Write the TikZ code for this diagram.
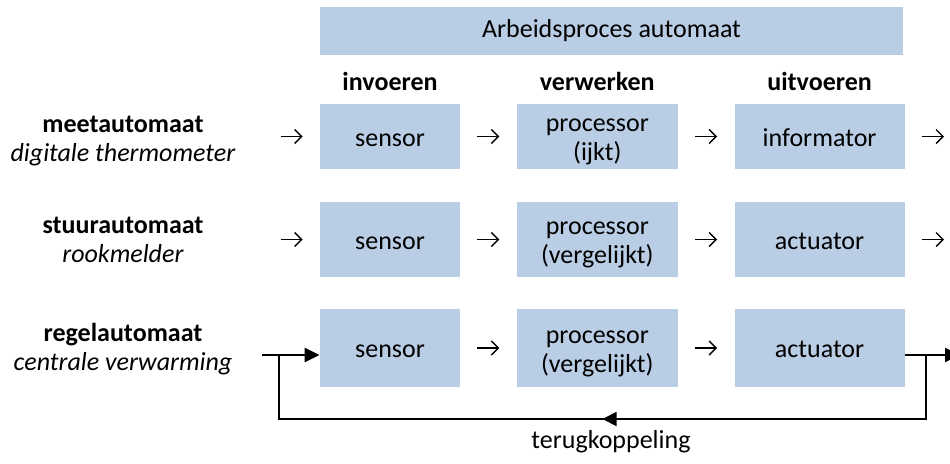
\documentclass[tikz,border=0pt]{standalone}
\usepackage{fontspec}
\setmainfont{Carlito}
\usepackage{xcolor}
\usetikzlibrary{positioning,arrows.meta,decorations.markings}
\definecolor{boxfill}{HTML}{B9CDE5}
\newcommand\txtsize{\fontsize{13}{14.5}\selectfont}
\newcommand\topstrut{\rule{0pt}{13pt}}
\newcommand\botstrut{\rule[-3.5pt]{0pt}{0pt}}
\tikzset{
  box/.style={fill=boxfill, align=center, inner xsep=2pt, inner ysep=0pt},
  sens/.style={box, minimum width=70pt},
  cpu/.style={box, minimum width=80.5pt},
  outp/.style={box, minimum width=85pt},
  head/.style={font=\txtsize\bfseries, anchor=base},
  kind/.style={align=center},
  tick/.style={-{Straight Barb[length=3.5pt,width=7pt]}, line width=0.7pt,
               shorten <=8.5pt, shorten >=8.5pt},
  io/.style={-{Triangle[length=7.5pt,width=7pt]}, line width=1.15pt},
  fb/.style={line width=0.9pt, postaction=decorate,
             decoration={markings, mark=at position 0.5 with {\arrow{Triangle[length=7pt,width=7pt]}}}},
}
\begin{document}
\begin{tikzpicture}[x=0.5pt,y=-0.5pt,node distance=28pt,font=\txtsize]
  \clip (0,0) rectangle (950,463);
  \node[box,minimum width=291.5pt,minimum height=24pt] (proc) at (611.5,31) {Arbeidsproces automaat};
  % meetautomaat
  \node[sens,minimum height=32.5pt] (s1) at (390,136.5) {\topstrut sensor\botstrut};
  \node[cpu,minimum height=32.5pt,right=of s1] (p1) {\topstrut processor\\(ijkt)\botstrut};
  \node[outp,minimum height=32.5pt,right=of p1] (a1) {\topstrut informator\botstrut};
  % stuurautomaat
  \node[sens,minimum height=37.5pt] (s2) at (390,239.5) {\topstrut sensor\botstrut};
  \node[cpu,minimum height=37.5pt,right=of s2] (p2) {\topstrut processor\\(vergelijkt)\botstrut};
  \node[outp,minimum height=37.5pt,right=of p2] (a2) {\topstrut actuator\botstrut};
  % regelautomaat
  \node[sens,minimum height=39pt] (s3) at (390,348) {\topstrut sensor\botstrut};
  \node[cpu,minimum height=39pt,right=of s3] (p3) {\topstrut processor\\(vergelijkt)\botstrut};
  \node[outp,minimum height=39pt,right=of p3] (a3) {\topstrut actuator\botstrut};
  \node[head] (hin) at (s1 |- 0,90) {invoeren};
  \node[head] (hver) at (p1 |- 0,90) {verwerken};
  \node[head] (huit) at (a1 |- 0,90) {uitvoeren};
  \node[kind] (k1) at (123,141) {\textbf{meetautomaat}\\\textit{digitale thermometer}};
  \node[kind] (k2) at (123,239.5) {\textbf{stuurautomaat}\\\textit{rookmelder}};
  \node[kind] (k3) at (123,349) {\textbf{regelautomaat}\\\textit{centrale verwarming}};
  \foreach \r in {1,2}{
    \draw[tick]([xshift=-28pt]s\r.west)--(s\r.west);
    \draw[tick](a\r.east)--([xshift=28pt]a\r.east);
  }
  \foreach \r in {1,2,3}{
    \draw[tick](s\r)--(p\r);\draw[tick](p\r)--(a\r);
  }
  \coordinate (in3) at (262,355);
  \coordinate (fbL) at (279,355);
  \coordinate (fbR) at (926,355);
  \coordinate (out3) at (960,355);
  \draw[io](in3)--(in3 -| s3.west);
  \draw[io](a3.east |- out3)--(out3);
  \draw[fb](fbR)--(fbR |- 0,419)--(fbL |- 0,419)--(fbL);
  \node (fbtxt) at (611,442) {terugkoppeling};
\end{tikzpicture}
\end{document}
